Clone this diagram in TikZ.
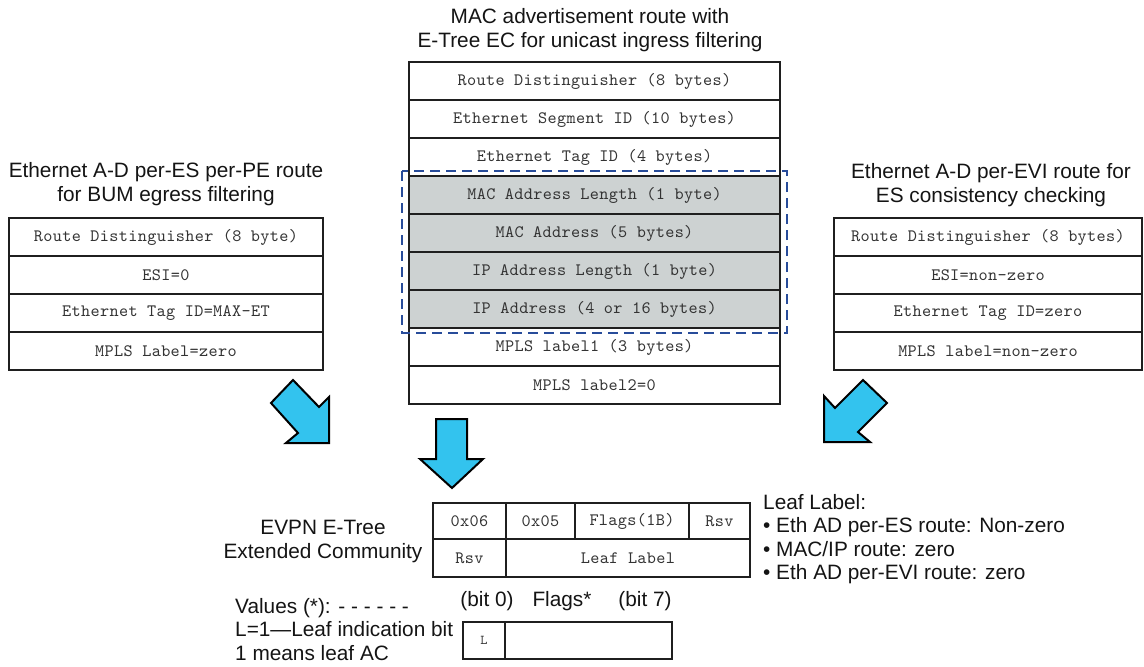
\documentclass[tikz,border=0pt]{standalone}
\usepackage{fontspec}
\setmainfont{Liberation Sans}
\newfontfamily\cellmono{lmmono10-regular.otf}[LetterSpace=2]
\definecolor{graycol}{HTML}{CDD2D2}
\definecolor{arrowcol}{HTML}{33C3EE}
\definecolor{dashblue}{HTML}{284C9A}
\begin{document}
\begin{tikzpicture}[x=1pt,y=-1pt,
  cell/.style={draw=black!88, line width=2.2pt, inner sep=0pt, font=\fontsize{17.4}{19}\selectfont\cellmono, text=black!80},
  graycell/.style={cell, fill=graycol},
  title/.style={align=center, inner sep=0pt, font=\fontsize{20.8}{23.5}\selectfont, text=black!92},
  plain/.style={inner sep=0pt, font=\fontsize{20.8}{23.5}\selectfont, text=black!92},
  blockarrow/.style={fill=arrowcol, draw=black, line width=2pt, line join=miter}]
\useasboundingbox (0,0) rectangle (1144,667);

% ---- left table ----
\node[title] (ltitle) at (166,184) {Ethernet A-D per-ES per-PE route\\for BUM egress filtering};
\node[cell, minimum width=314pt, minimum height=38pt] (l1) at (166,237) {Route Distinguisher (8 byte)};
\node[cell, minimum width=314pt, minimum height=38pt] (l2) at (166,275) {ESI=0};
\node[cell, minimum width=314pt, minimum height=38pt] (l3) at (166,313) {Ethernet Tag ID=MAX-ET};
\node[cell, minimum width=314pt, minimum height=38pt] (l4) at (166,351) {MPLS Label=zero};

% ---- middle table ----
\node[title] (mtitle) at (590,30) {MAC advertisement route with\\E-Tree EC for unicast ingress filtering};
\node[cell, minimum width=371pt, minimum height=38pt] (m1) at (594.5,81) {Route Distinguisher (8 bytes)};
\node[cell, minimum width=371pt, minimum height=38pt] (m2) at (594.5,119) {Ethernet Segment ID (10 bytes)};
\node[cell, minimum width=371pt, minimum height=38pt] (m3) at (594.5,157) {Ethernet Tag ID (4 bytes)};
\node[graycell, minimum width=371pt, minimum height=38pt] (m4) at (594.5,195) {MAC Address Length (1 byte)};
\node[graycell, minimum width=371pt, minimum height=38pt] (m5) at (594.5,233) {MAC Address (5 bytes)};
\node[graycell, minimum width=371pt, minimum height=38pt] (m6) at (594.5,271) {IP Address Length (1 byte)};
\node[graycell, minimum width=371pt, minimum height=38pt] (m7) at (594.5,309) {IP Address (4 or 16 bytes)};
\node[cell, minimum width=371pt, minimum height=38pt] (m8) at (594.5,347) {MPLS label1 (3 bytes)};
\node[cell, minimum width=371pt, minimum height=38pt] (m9) at (594.5,385) {MPLS label2=0};
\draw[dashblue, line width=2.4pt, dash pattern=on 10pt off 6pt] (402,171) rectangle (787,333);

% ---- right table ----
\node[title] (rtitle) at (991,185) {Ethernet A-D per-EVI route for\\ES consistency checking};
\node[cell, minimum width=308pt, minimum height=38pt] (r1) at (988,237) {Route Distinguisher (8 bytes)};
\node[cell, minimum width=308pt, minimum height=38pt] (r2) at (988,275) {ESI=non-zero};
\node[cell, minimum width=308pt, minimum height=38pt] (r3) at (988,313) {Ethernet Tag ID=zero};
\node[cell, minimum width=308pt, minimum height=38pt] (r4) at (988,351) {MPLS label=non-zero};

% ---- block arrows ----
\draw[blockarrow] (293,380) -- (319,407) -- (329,397) -- (329,443) -- (286,443) -- (298,433) -- (271,403) -- cycle;
\draw[blockarrow] (436,419) -- (467,419) -- (467,459) -- (483,459) -- (452,488) -- (420,459) -- (436,459) -- cycle;
\draw[blockarrow] (863,380) -- (887,403) -- (858,432) -- (870,442) -- (824,442) -- (824,396) -- (835,408) -- cycle;

% ---- EVPN E-Tree extended community ----
\node[title] (ectitle) at (323,541.5) {EVPN E-Tree\\Extended Community};
\node[cell, minimum width=73pt, minimum height=36pt] (e1) at (469.5,521) {0x06};
\node[cell, minimum width=69pt, minimum height=36pt] (e2) at (540.5,521) {0x05};
\node[cell, minimum width=114pt, minimum height=36pt] (e3) at (632,521) {Flags(1B)};
\node[cell, minimum width=61pt, minimum height=36pt] (e4) at (719.5,521) {Rsv};
\node[cell, minimum width=73pt, minimum height=38pt] (e5) at (469.5,558) {Rsv};
\node[cell, minimum width=244pt, minimum height=38pt] (e6) at (628,558) {Leaf Label};

\node[plain, anchor=north west, align=left] (leafnote) at (763,494) {Leaf Label:\\%
\textbullet{} Eth AD per-ES route: Non-zero\\%
\textbullet{} MAC/IP route: zero\\%
\textbullet{} Eth AD per-EVI route: zero};

% ---- flags ----
\node[plain] (bit0) at (487,601) {(bit 0)};
\node[plain] (flagsstar) at (562,601) {Flags*};
\node[plain] (bit7) at (645,601) {(bit 7)};
\node[cell, minimum width=42pt, minimum height=37pt, font=\fontsize{13.5}{15}\selectfont\cellmono] (fl) at (484,640.5) {L};
\node[cell, minimum width=167pt, minimum height=37pt] (fr) at (588.5,640.5) {};

\node[plain, anchor=north west, align=left] (values) at (235,598) {Values (*): - - - - - -\\%
L=1---Leaf indication bit\\%
1 means leaf AC};
\end{tikzpicture}
\end{document}
